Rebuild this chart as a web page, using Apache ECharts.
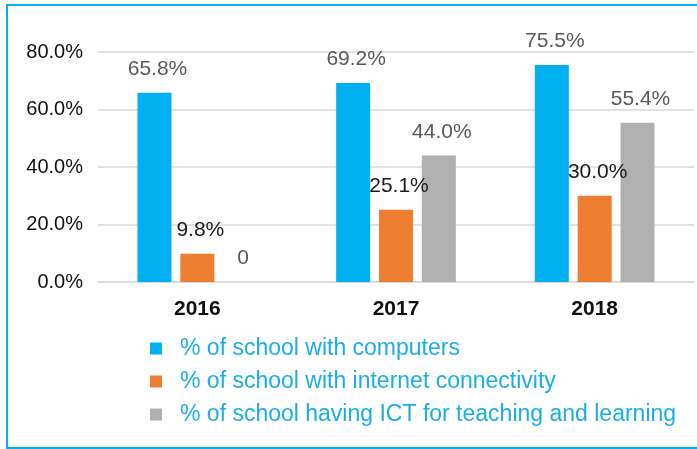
<!DOCTYPE html>
<html>
<head>
<meta charset="utf-8">
<script src="https://cdn.jsdelivr.net/npm/echarts@6/dist/echarts.min.js"></script>
<style>
  html, body { margin: 0; padding: 0; background: #fff; }
  #wrap { position: relative; width: 697px; height: 449px; overflow: hidden; }
  #chart { position: absolute; left: 0; top: 0; width: 697px; height: 449px; }
  #frame {
    position: absolute; left: 6px; top: 4px; width: 720px; height: 445px;
    box-sizing: border-box; border: 2px solid #00b0f0; pointer-events: none;
  }
</style>
</head>
<body>
<div id="wrap">
  <div id="chart"></div>
  <div id="frame"></div>
</div>
<script>
const years = ['2016', '2017', '2018']
const computers = [65.8, 69.2, 75.5]
const internet = [9.8, 25.1, 30.0]
const ictTeaching = [0, 44.0, 55.4]
const seriesNames = [
  '% of school with computers',
  '% of school with internet connectivity',
  '% of school having ICT for teaching and learning'
]
const colors = ['#00b0f0', '#ed7d31', '#b0b0b0']
const labelColors = ['#595959', '#1a1a1a', '#595959']

const font = 'Liberation Sans, Arial, sans-serif'

function fmt(p) {
  return p.value === 0 ? '0' : p.value.toFixed(1) + '%'
}

function barSeries(i, data) {
  return {
    type: 'bar',
    name: seriesNames[i],
    data: data,
    barWidth: 34,
    barGap: '26%',
    itemStyle: { color: colors[i] },
    label: {
      show: true,
      position: 'top',
      distance: 13,
      offset: [3, 0],
      formatter: fmt,
      color: labelColors[i],
      fontSize: 21,
      fontFamily: font
    }
  }
}

const chart = echarts.init(document.getElementById('chart'))
chart.setOption({
  animation: false,
  backgroundColor: '#fff',
  grid: { left: 98, right: 3, top: 52, bottom: 167 },
  xAxis: {
    type: 'category', data: years,
    axisLine: { lineStyle: { color: '#d9d9d9', width: 1.5 } },
    axisTick: { show: false },
    axisLabel: {
      margin: 17, color: '#111', fontSize: 21, fontWeight: 'bold', fontFamily: font
    }
  },
  yAxis: {
    type: 'value', min: 0, max: 80, interval: 20,
    axisLine: { show: false },
    axisTick: { show: false },
    splitLine: { lineStyle: { color: '#d9d9d9', width: 1.5 } },
    axisLabel: {
      margin: 15, color: '#111', fontSize: 20, fontFamily: font,
      formatter: v => v.toFixed(1) + '%'
    }
  },
  legend: {
    orient: 'vertical',
    left: 145,
    top: 332,
    itemWidth: 12,
    itemHeight: 12,
    itemGap: 10,
    icon: 'rect',
    data: seriesNames,
    textStyle: {
      color: '#1aaee8',
      fontSize: 23,
      lineHeight: 23,
      fontFamily: font,
      padding: [0, 0, 0, 13]
    }
  },
  series: [
    barSeries(0, computers),
    barSeries(1, internet),
    barSeries(2, ictTeaching)
  ]
})
</script>
</body>
</html>
